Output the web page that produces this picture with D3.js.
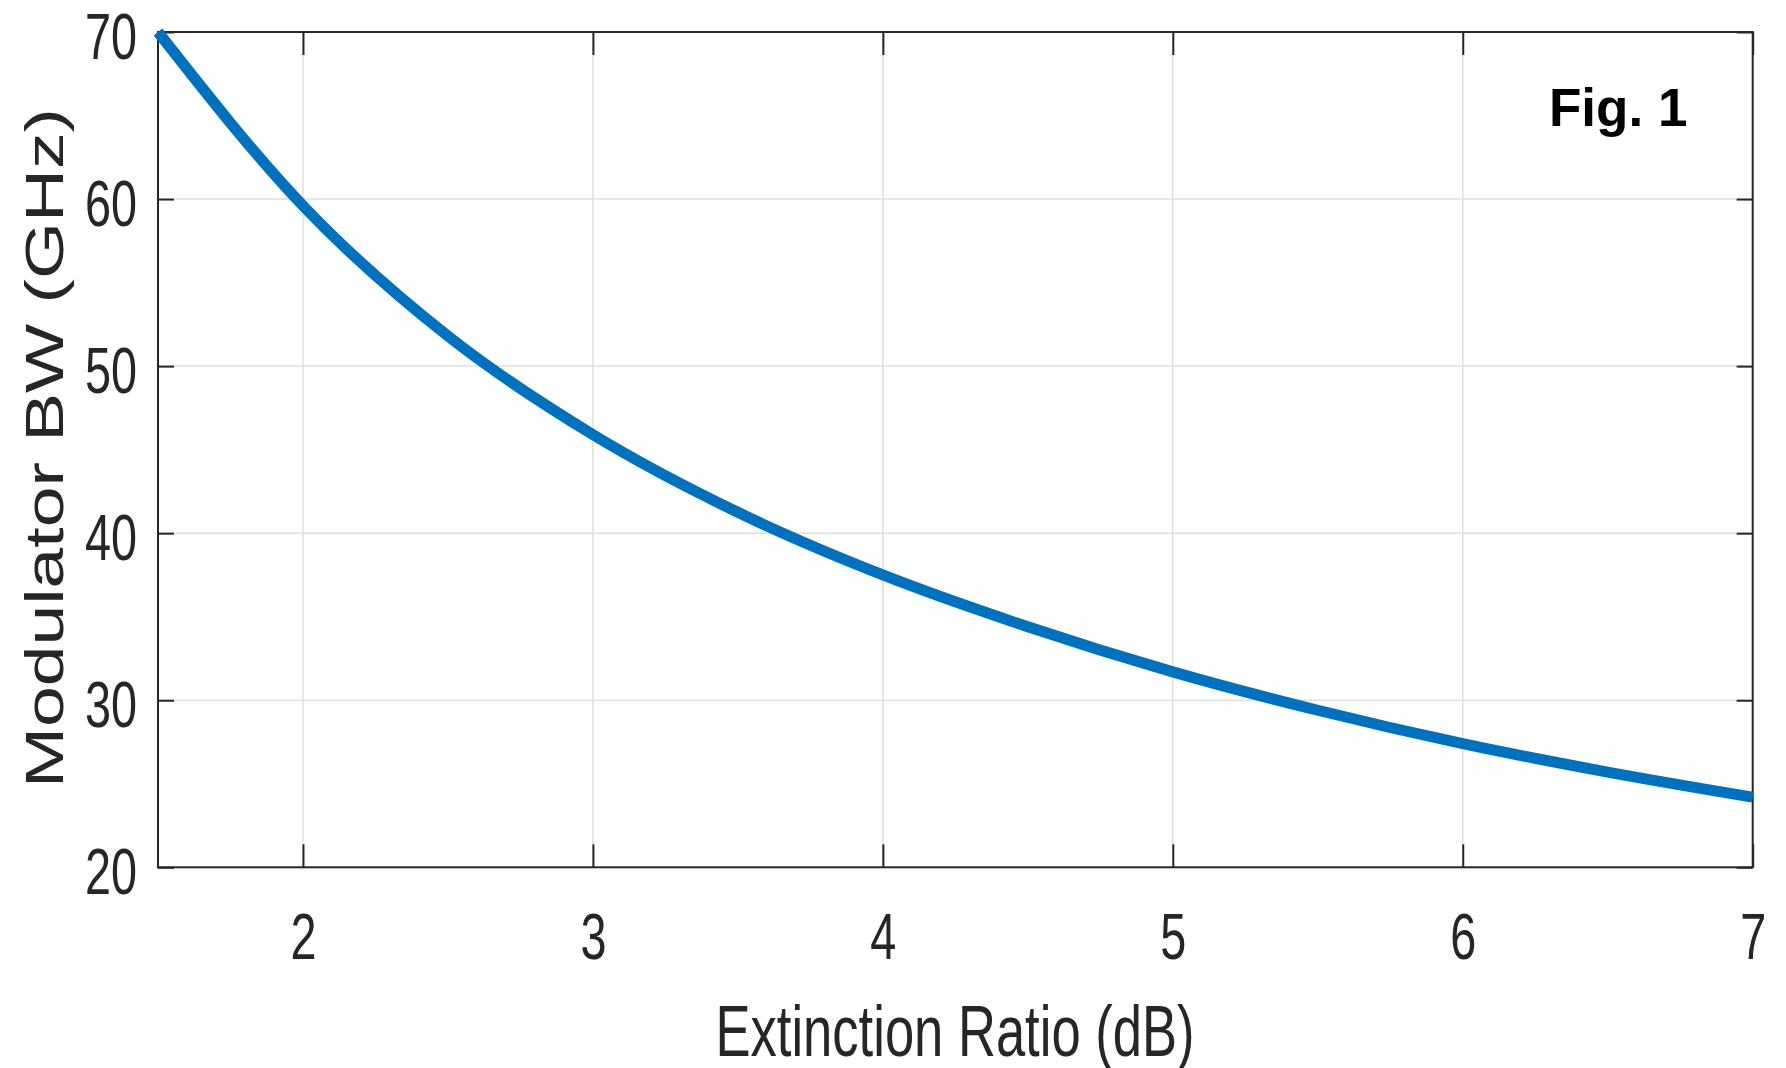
<!DOCTYPE html>
<html>
<head>
<meta charset="utf-8">
<script src="https://cdn.jsdelivr.net/npm/d3@7"></script>
<style>
  html, body { margin: 0; padding: 0; background: #ffffff; }
  svg { display: block; }
</style>
</head>
<body>
<svg id="chart" width="1786" height="1068"></svg>
<script>
// ---- data ----
const extinctionRatio = [1.5, 2.0, 2.5, 3.0, 3.5, 4.0, 4.5, 5.0, 5.5, 6.0, 6.5, 7.0];
const modulatorBW     = [70.0, 59.6, 51.8, 45.9, 41.25, 37.5, 34.4, 31.7, 29.4, 27.4, 25.7, 24.2];
const xTicks = [2, 3, 4, 5, 6, 7];
const yTicks = [20, 30, 40, 50, 60, 70];
const xDomain = [1.5, 7];
const yDomain = [20, 70];
const xLabel = "Extinction Ratio (dB)";
const yLabel = "Modulator BW (GHz)";
const figLabel = "Fig. 1";

// ---- layout ----
const L = 158, R = 1752.7, T = 32, B = 867.3;
const axisColor = "#262626";
const sans = "'Liberation Sans', Arial, Helvetica, sans-serif";
const sx = 0.72;

const svg = d3.select("#chart");
const x = d3.scaleLinear().domain(xDomain).range([L, R]);
const y = d3.scaleLinear().domain(yDomain).range([B, T]);

// grid
const grid = svg.append("g").attr("stroke", "#dfdfdf").attr("stroke-width", 1.5);
grid.selectAll("line.vx").data(xTicks.filter(d => d > xDomain[0] && d < xDomain[1]))
  .enter().append("line")
  .attr("x1", d => x(d)).attr("x2", d => x(d)).attr("y1", T).attr("y2", B);
grid.selectAll("line.hy").data(yTicks.filter(d => d > yDomain[0] && d < yDomain[1]))
  .enter().append("line")
  .attr("x1", L).attr("x2", R).attr("y1", d => y(d)).attr("y2", d => y(d));

// axes (ticks inward)
function style(g) {
  g.select(".domain").remove();
  g.selectAll(".tick line").attr("stroke", axisColor).attr("stroke-width", 2);
  g.attr("font-family", sans).attr("font-size", 65);
  g.selectAll(".tick text").attr("fill", axisColor);
}
const gB = svg.append("g").attr("transform", `translate(0,${B})`)
  .call(d3.axisBottom(x).tickValues(xTicks).tickSizeInner(-23).tickSizeOuter(0).tickFormat(d3.format("d")));
style(gB);
gB.selectAll(".tick text").attr("y", 0).attr("dy", 0)
  .attr("transform", `translate(0,92) scale(${sx},1)`).attr("text-anchor", "middle");

const gT = svg.append("g").attr("transform", `translate(0,${T})`)
  .call(d3.axisTop(x).tickValues(xTicks).tickSizeInner(-23).tickSizeOuter(0).tickFormat(""));
style(gT);

const gL = svg.append("g").attr("transform", `translate(${L},0)`)
  .call(d3.axisLeft(y).tickValues(yTicks).tickSizeInner(-16).tickSizeOuter(0).tickFormat(d3.format("d")));
style(gL);
gL.selectAll(".tick text").attr("x", 0).attr("dy", 0)
  .attr("transform", `translate(${137 - L},26) scale(${sx},1)`).attr("text-anchor", "end");

const gR = svg.append("g").attr("transform", `translate(${R},0)`)
  .call(d3.axisRight(y).tickValues(yTicks).tickSizeInner(-16).tickSizeOuter(0).tickFormat(""));
style(gR);

// box
svg.append("rect").attr("x", L).attr("y", T).attr("width", R - L).attr("height", B - T)
  .attr("fill", "none").attr("stroke", axisColor).attr("stroke-width", 2);

// curve
const pts = extinctionRatio.map((d, i) => [d, modulatorBW[i]]);
svg.append("path").datum(pts)
  .attr("fill", "none").attr("stroke", "#0072BD").attr("stroke-width", 11)
  .attr("stroke-linejoin", "round").attr("stroke-linecap", "butt")
  .attr("d", d3.line().x(d => x(d[0])).y(d => y(d[1])).curve(d3.curveMonotoneX));

// axis labels
svg.append("text").text(xLabel)
  .attr("transform", `translate(955,1056) scale(0.73,1)`)
  .attr("text-anchor", "middle").attr("font-family", sans).attr("font-size", 72)
  .attr("fill", axisColor);

svg.append("text").text(yLabel)
  .attr("transform", `translate(63,448) rotate(-90)`)
  .attr("text-anchor", "middle").attr("font-family", sans)
  .attr("font-size", 53).attr("fill", axisColor)
  .attr("textLength", 680).attr("lengthAdjust", "spacingAndGlyphs");

svg.append("text").text(figLabel)
  .attr("x", 1549).attr("y", 126)
  .attr("font-family", sans).attr("font-weight", "bold")
  .attr("font-size", 53).attr("fill", "#000");
</script>
</body>
</html>
